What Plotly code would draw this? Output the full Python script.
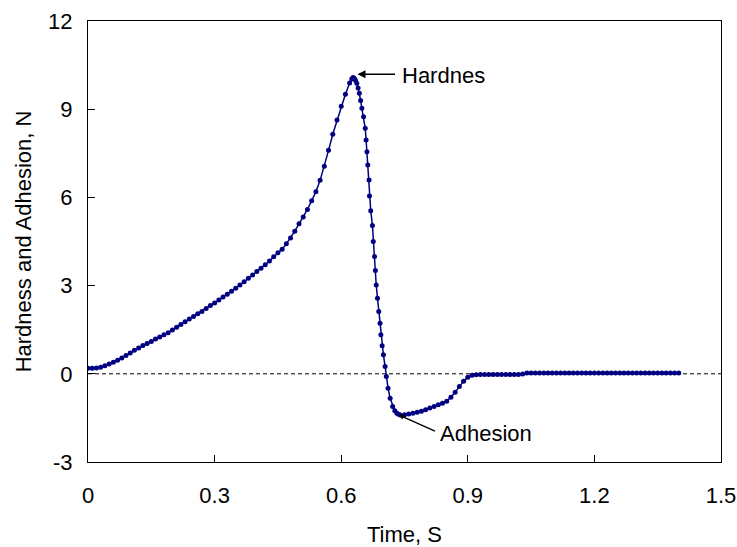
import plotly.graph_objects as go

# Time (s) and force (N)
time_s = [
    0.00, 0.01, 0.02, 0.03, 0.04, 0.05, 0.06, 0.07, 0.08, 0.09,
    0.10, 0.11, 0.12, 0.13, 0.14, 0.15, 0.16, 0.17, 0.18, 0.19,
    0.20, 0.21, 0.22, 0.23, 0.24, 0.25, 0.26, 0.27, 0.28, 0.29,
    0.30, 0.31, 0.32, 0.33, 0.34, 0.35, 0.36, 0.37, 0.38, 0.39,
    0.40, 0.41, 0.42, 0.43, 0.44, 0.45, 0.46, 0.47, 0.48, 0.49,
    0.50, 0.51, 0.52, 0.53, 0.54, 0.55, 0.56, 0.57, 0.58, 0.59,
    0.60, 0.61, 0.62, 0.625, 0.628, 0.631, 0.634, 0.637, 0.640, 0.643,
    0.646, 0.649, 0.653, 0.657, 0.659, 0.661, 0.663, 0.666, 0.667, 0.670,
    0.674, 0.676, 0.679, 0.681, 0.683, 0.686, 0.689, 0.692, 0.694, 0.697,
    0.700, 0.704, 0.707, 0.711, 0.716, 0.722, 0.727, 0.732, 0.736, 0.740,
    0.75, 0.76, 0.77, 0.78, 0.79, 0.80, 0.81, 0.82, 0.83, 0.84,
    0.85, 0.86, 0.87, 0.88, 0.89, 0.90, 0.91, 0.92, 0.93, 0.94,
    0.95, 0.96, 0.97, 0.98, 0.99, 1.00, 1.01, 1.02, 1.03, 1.04,
    1.05, 1.06, 1.07, 1.08, 1.09, 1.10, 1.11, 1.12, 1.13, 1.14,
    1.15, 1.16, 1.17, 1.18, 1.19, 1.20, 1.21, 1.22, 1.23, 1.24,
    1.25, 1.26, 1.27, 1.28, 1.29, 1.30, 1.31, 1.32, 1.33, 1.34,
    1.35, 1.36, 1.37, 1.38, 1.39, 1.40,
]
force_n = [
    0.19, 0.19, 0.20, 0.22, 0.27, 0.33, 0.39, 0.46, 0.54, 0.62,
    0.71, 0.80, 0.88, 0.96, 1.03, 1.10, 1.18, 1.25, 1.33, 1.40,
    1.49, 1.58, 1.68, 1.77, 1.86, 1.95, 2.04, 2.12, 2.22, 2.32,
    2.41, 2.51, 2.61, 2.71, 2.81, 2.91, 3.02, 3.13, 3.25, 3.36,
    3.48, 3.59, 3.71, 3.84, 3.98, 4.12, 4.24, 4.42, 4.62, 4.85,
    5.10, 5.33, 5.59, 5.89, 6.19, 6.58, 7.06, 7.60, 8.15, 8.63,
    9.10, 9.51, 9.89, 10.03, 10.08, 10.05, 9.98, 9.88, 9.72, 9.54,
    9.30, 9.03, 8.74, 8.35, 7.95, 7.55, 7.10, 6.59, 6.05, 5.55,
    5.04, 4.50, 3.99, 3.51, 3.02, 2.57, 2.12, 1.72, 1.33, 0.95,
    0.65, 0.25, -0.09, -0.49, -0.83, -1.11, -1.26, -1.34, -1.38, -1.40,
    -1.39, -1.37, -1.34, -1.31, -1.27, -1.22, -1.16, -1.11, -1.05, -1.00,
    -0.93, -0.80, -0.63, -0.43, -0.25, -0.12, -0.05, -0.03, -0.02, -0.02,
    -0.02, -0.02, -0.02, -0.02, -0.02, -0.02, -0.02, -0.02, -0.01, 0.03,
    0.03, 0.03, 0.03, 0.03, 0.03, 0.03, 0.03, 0.03, 0.03, 0.03,
    0.03, 0.03, 0.03, 0.03, 0.03, 0.03, 0.03, 0.03, 0.03, 0.03,
    0.03, 0.03, 0.03, 0.03, 0.03, 0.03, 0.03, 0.03, 0.03, 0.03,
    0.03, 0.03, 0.03, 0.03, 0.03, 0.03,
]

x_ticks = [0, 0.3, 0.6, 0.9, 1.2, 1.5]
y_ticks = [-3, 0, 3, 6, 9, 12]

FONT = "Arial, 'Liberation Sans', sans-serif"
NAVY = "#000080"
FS = 22

fig = go.Figure()
fig.add_trace(go.Scatter(
    x=time_s, y=force_n, mode="lines+markers",
    line=dict(color=NAVY, width=1.5),
    marker=dict(symbol="circle", size=5, color=NAVY),
    showlegend=False, hoverinfo="skip",
))

# dashed zero reference line
fig.add_shape(type="line", xref="x", yref="y", x0=0, x1=1.5, y0=0, y1=0,
              line=dict(color="black", width=1, dash="4px,3px"), layer="below")

# arrows
fig.add_annotation(x=0.6387, y=10.19, xref="x", yref="y", text="",
                   showarrow=True, ax=39, ay=0, arrowhead=2, arrowsize=1,
                   arrowwidth=1.6, arrowcolor="black")
fig.add_annotation(x=0.7357, y=-1.393, xref="x", yref="y", text="",
                   showarrow=True, ax=38, ay=17, arrowhead=2, arrowsize=0.8,
                   arrowwidth=1.4, arrowcolor="black")
# labels
fig.add_annotation(x=0.7438, y=10.16, xref="x", yref="y", text="Hardnes",
                   showarrow=False, xanchor="left", yanchor="middle", xshift=-2,
                   font=dict(family=FONT, size=FS, color="black"))
fig.add_annotation(x=0.8345, y=-2.015, xref="x", yref="y", text="Adhesion",
                   showarrow=False, xanchor="left", yanchor="middle", xshift=-2,
                   font=dict(family=FONT, size=FS, color="black"))

axis_common = dict(
    showline=True, linecolor="black", linewidth=1.3, mirror=True,
    ticks="inside", ticklen=7, tickwidth=1, tickcolor="black",
    showgrid=False, zeroline=False,
    tickfont=dict(family=FONT, size=FS, color="black"),
)

fig.update_xaxes(range=[0, 1.5], tickvals=x_ticks,
                 ticktext=[f"{v:g}" for v in x_ticks],
                 ticklabelstandoff=13,
                 title=dict(text="Time, S", font=dict(family=FONT, size=FS, color="black"),
                            standoff=26),
                 **axis_common)
fig.update_yaxes(range=[-3, 12], tickvals=y_ticks,
                 ticktext=[f"{v:g}" for v in y_ticks],
                 ticklabelstandoff=10,
                 title=dict(text="Hardness and Adhesion, N",
                            font=dict(family=FONT, size=FS, color="black"),
                            standoff=10),
                 **axis_common)

fig.update_layout(
    width=737, height=547,
    margin=dict(l=88, r=16, t=21, b=85, autoexpand=False),
    paper_bgcolor="white", plot_bgcolor="white",
    font=dict(family=FONT, size=FS, color="black"),
)

# remove the default page margin so the figure sits at the window origin
fig.write_html(
    "out.html",
    config=dict(displayModeBar=False),
    post_script="document.documentElement.style.overflow='hidden';"
                "document.body.style.margin='0';document.body.style.overflow='hidden';",
)
